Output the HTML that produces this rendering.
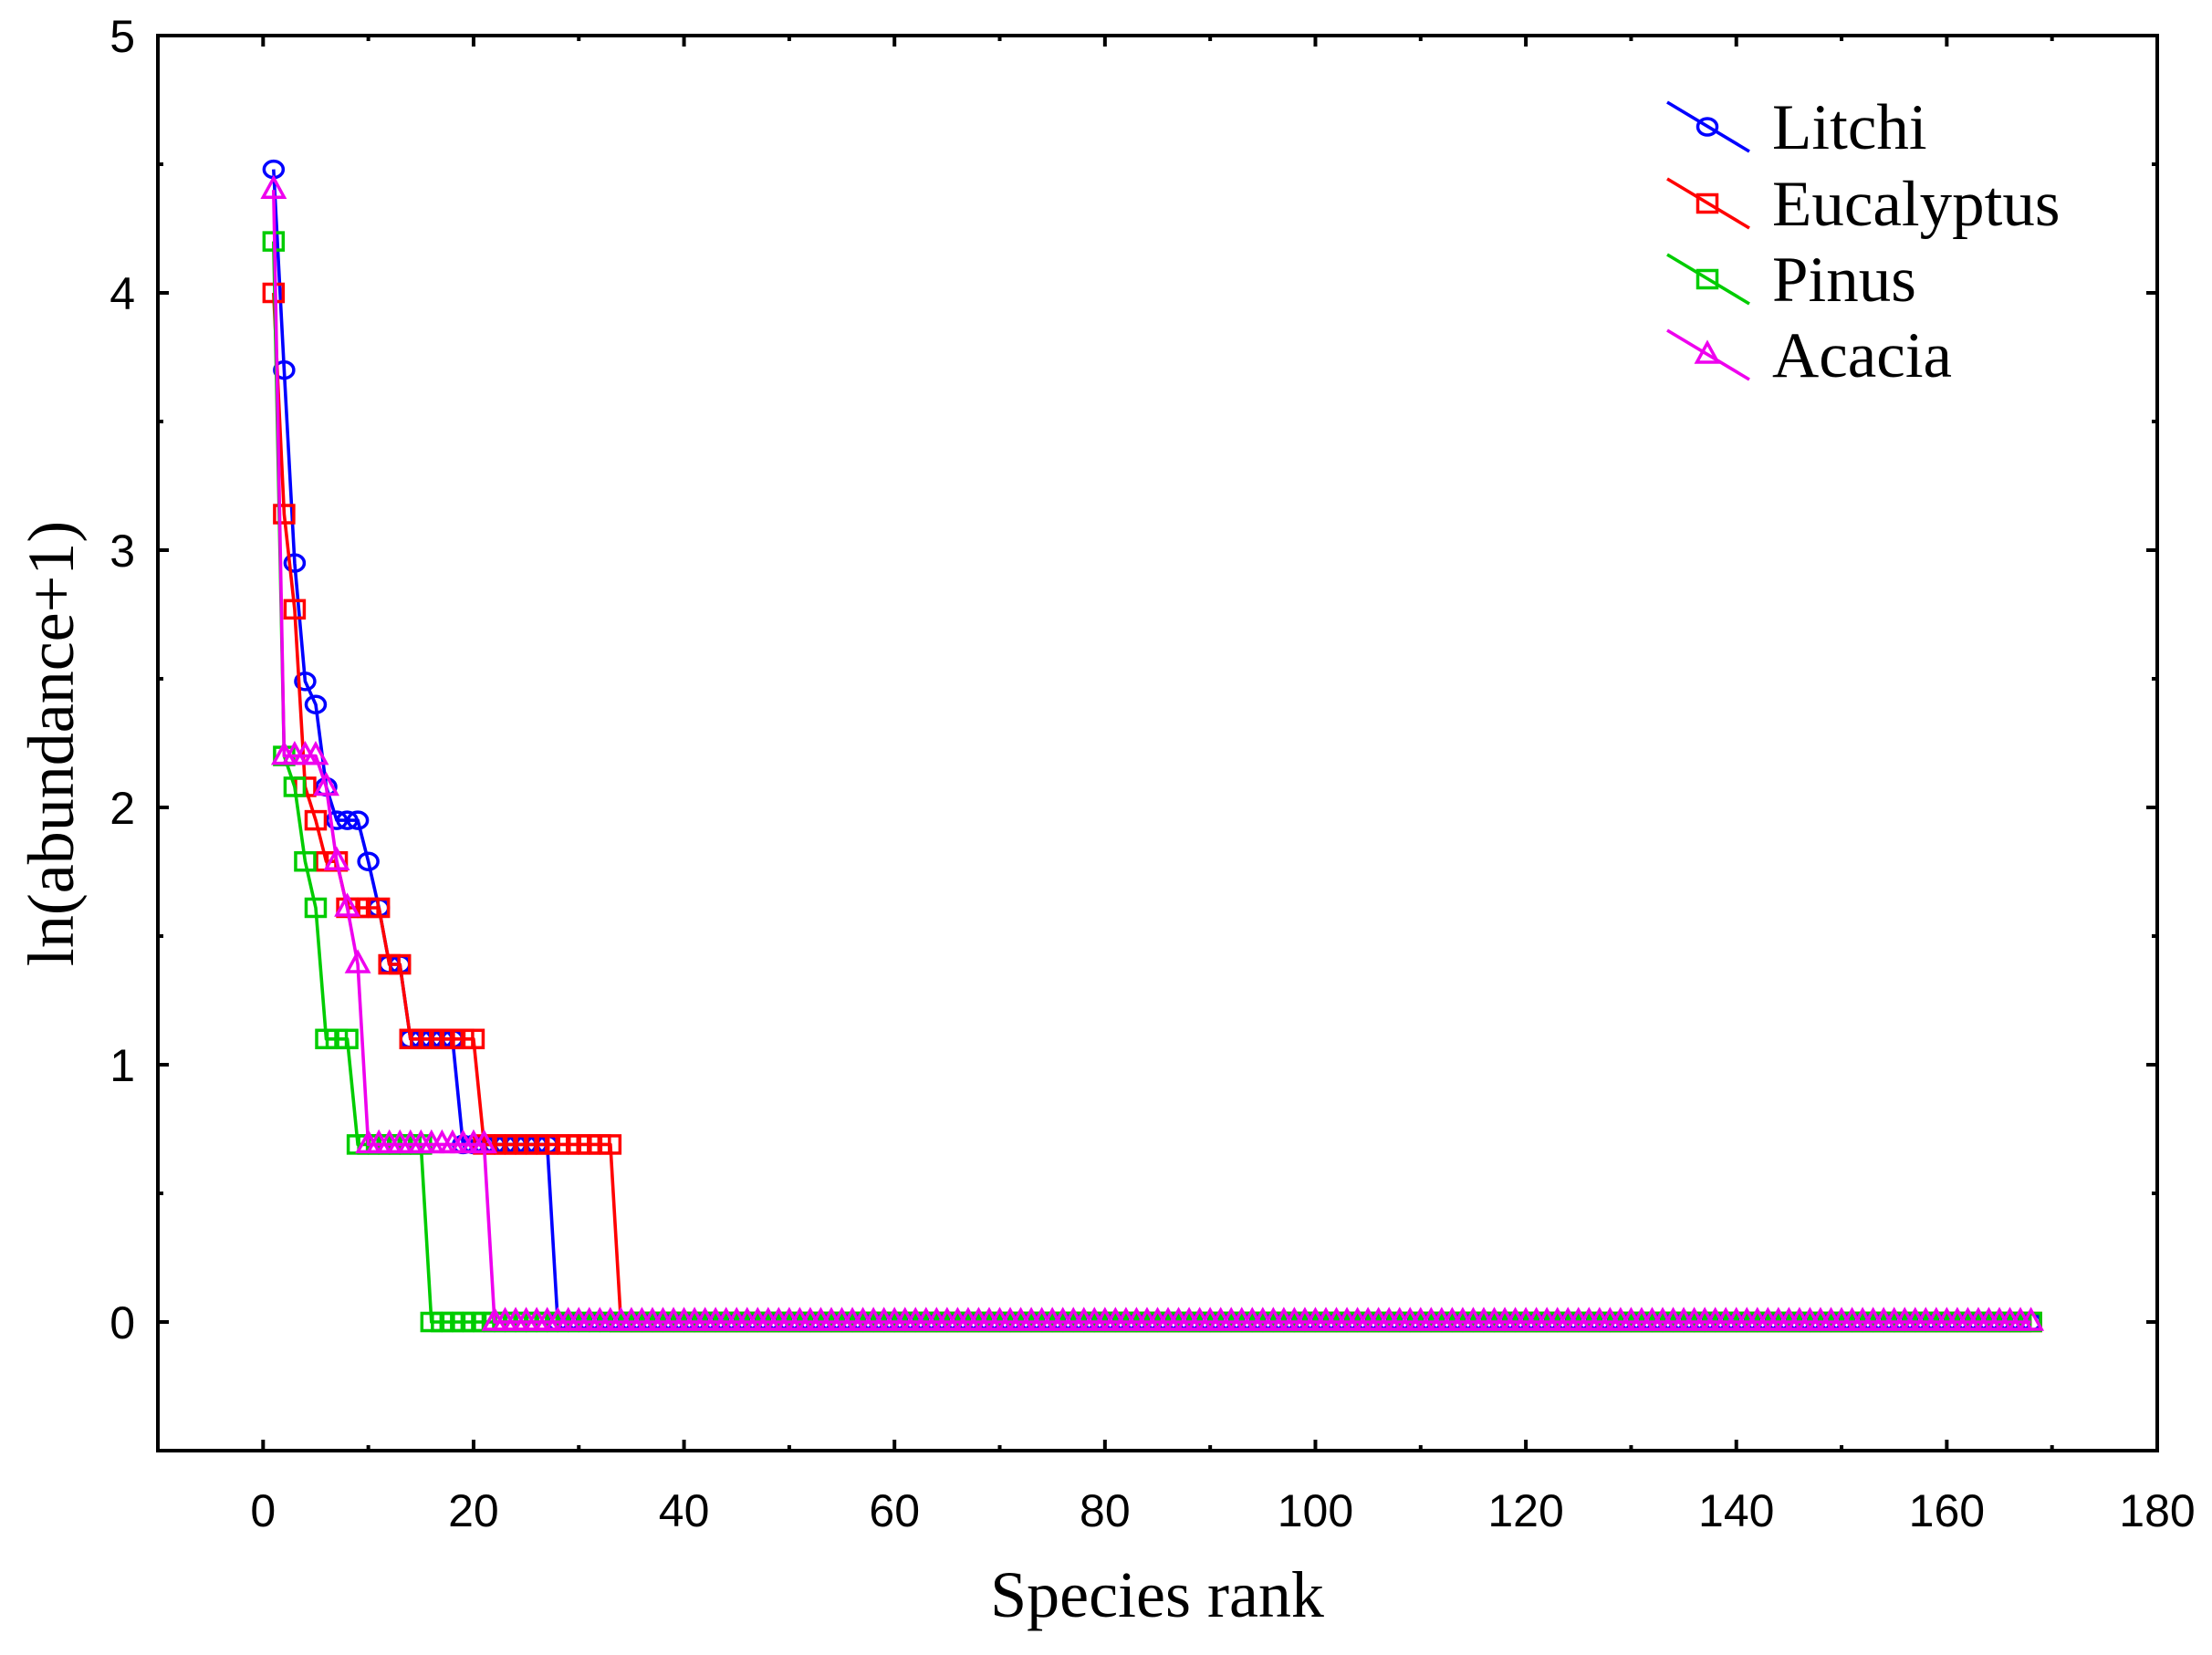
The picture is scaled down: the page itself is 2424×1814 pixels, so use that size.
<!DOCTYPE html>
<html><head><meta charset="utf-8"><style>
html,body{margin:0;padding:0;background:#fff;}
svg{display:block;}
</style></head><body>
<svg id="chart" width="2424" height="1814" viewBox="0 0 2424 1814" xmlns="http://www.w3.org/2000/svg"></svg>
<script>
const xTicks = [0,20,40,60,80,100,120,140,160,180];
const yTicks = [0,1,2,3,4,5];
const seriesNames = ["Litchi","Eucalyptus","Pinus","Acacia"];
const litchiHead = [4.48,3.7,2.95,2.49,2.4,2.08,1.95,1.95,1.95,1.79,1.61,1.39,1.39,1.1,1.1,1.1,1.1,1.1,0.69,0.69,0.69,0.69,0.69,0.69,0.69,0.69,0.69];
const eucalyptusHead = [4.0,3.14,2.77,2.08,1.95,1.79,1.79,1.61,1.61,1.61,1.61,1.39,1.39,1.1,1.1,1.1,1.1,1.1,1.1,1.1,0.69,0.69,0.69,0.69,0.69,0.69,0.69,0.69,0.69,0.69,0.69,0.69,0.69];
const pinusHead = [4.2,2.2,2.08,1.79,1.61,1.1,1.1,1.1,0.69,0.69,0.69,0.69,0.69,0.69,0.69];
const acaciaHead = [4.4,2.2,2.2,2.2,2.2,2.08,1.79,1.61,1.39,0.69,0.69,0.69,0.69,0.69,0.69,0.69,0.69,0.69,0.69,0.69,0.69];
const totalSpecies = 168;

const NS="http://www.w3.org/2000/svg";
const svg=document.getElementById('chart');
const L=173,R=2364,T=39,B=1590;
const xMin=-10,xMax=180,yMin=-0.5,yMax=5;
function sx(v){return L+(v-xMin)/(xMax-xMin)*(R-L);}
function sy(v){return B-(v-yMin)/(yMax-yMin)*(B-T);}
function mk(tag,attrs){const e=document.createElementNS(NS,tag);for(const k in attrs)e.setAttribute(k,attrs[k]);return e;}
function full(head){const a=head.slice();while(a.length<totalSpecies)a.push(0);return a;}
const seriesData=[full(litchiHead),full(eucalyptusHead),full(pinusHead),full(acaciaHead)];
const colors=["#0000ff","#ff0000","#00cc00","#ee00ee"];
const markers=["circle","square","square","triangle"];

const plot=mk('g',{});


svg.appendChild(plot);

function drawMarker(g,type,x,y,c){
  let m;
  if(type==="circle") m=mk('ellipse',{cx:x,cy:y,rx:10.5,ry:9,fill:'none',stroke:c,'stroke-width':3.5});
  else if(type==="square") m=mk('rect',{x:x-10.5,y:y-9.5,width:21,height:19,fill:'none',stroke:c,'stroke-width':3.5});
  else m=mk('polygon',{points:`${x},${y-13} ${x-11.5},${y+8} ${x+11.5},${y+8}`,fill:'none',stroke:c,'stroke-width':3.5});
  g.appendChild(m);
  return m;
}

seriesData.forEach((vals,si)=>{
  const g=mk('g',{});
  
  
  let d='';
  vals.forEach((v,i)=>{d+=(i?'L':'M')+sx(i+1).toFixed(1)+','+sy(v).toFixed(1);});
  const p=mk('path',{d:d,fill:'none',stroke:colors[si],'stroke-width':3.6,'stroke-linejoin':'round'});
  
  
  g.appendChild(p);
  vals.forEach((v,i)=>{
    const m=drawMarker(g,markers[si],sx(i+1),sy(v),colors[si]);
    
    
  });
  plot.appendChild(g);
});

const frame=mk('rect',{x:L,y:T,width:R-L,height:B-T,fill:'none',stroke:'#000','stroke-width':4});


svg.appendChild(frame);

for(let v=-10;v<=180;v+=10){
  const major=v%20===0;
  const len=major?12:6;
  const t1=mk('line',{x1:sx(v),x2:sx(v),y1:B,y2:B-len,stroke:'#000','stroke-width':4});
  
  
  svg.appendChild(t1);
  const t2=mk('line',{x1:sx(v),x2:sx(v),y1:T,y2:T+len,stroke:'#000','stroke-width':4});
  
  
  svg.appendChild(t2);
}
xTicks.forEach(v=>{
  const t=mk('text',{x:sx(v),y:1673,'text-anchor':'middle','font-family':'Liberation Sans, sans-serif','font-size':50,fill:'#000'});
  t.textContent=v;
  
  
  svg.appendChild(t);
});
for(let v=-0.5;v<=5.001;v+=0.5){
  const major=Math.abs(v-Math.round(v))<1e-6;
  const len=major?12:6;
  const t1=mk('line',{x1:L,x2:L+len,y1:sy(v),y2:sy(v),stroke:'#000','stroke-width':4});
  
  
  svg.appendChild(t1);
  const t2=mk('line',{x1:R,x2:R-len,y1:sy(v),y2:sy(v),stroke:'#000','stroke-width':4});
  
  
  svg.appendChild(t2);
}
yTicks.forEach(v=>{
  const t=mk('text',{x:148,y:sy(v)+18,'text-anchor':'end','font-family':'Liberation Sans, sans-serif','font-size':50,fill:'#000'});
  t.textContent=v;
  
  
  svg.appendChild(t);
});

const xt=mk('text',{x:1268,y:1772,'text-anchor':'middle','font-family':'Liberation Serif, serif','font-size':72,fill:'#000'});
xt.textContent='Species rank';


svg.appendChild(xt);
const yt=mk('text',{x:0,y:0,'text-anchor':'middle','font-family':'Liberation Serif, serif','font-size':72,fill:'#000',transform:'translate(80,815) rotate(-90)'});
yt.textContent='ln(abundance+1)';


svg.appendChild(yt);

const legendY=[139,223,306,389];
const lg=mk('g',{});


svg.appendChild(lg);
seriesNames.forEach((n,i)=>{
  const g=mk('g',{});
  
  
  const y=legendY[i];
  g.appendChild(mk('line',{x1:1827,y1:y-27,x2:1917,y2:y+27,stroke:colors[i],'stroke-width':3.6}));
  drawMarker(g,markers[i],1871,y,colors[i]);
  const t=mk('text',{x:1942,y:y+24,'font-family':'Liberation Serif, serif','font-size':71,fill:'#000'});
  t.textContent=n;
  g.appendChild(t);
  lg.appendChild(g);
});
</script>
</body></html>
